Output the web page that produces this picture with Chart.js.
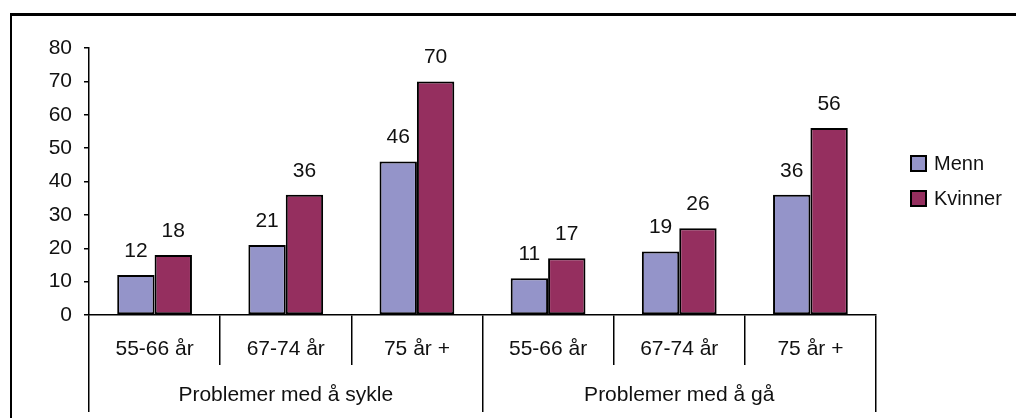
<!DOCTYPE html>
<html>
<head>
<meta charset="utf-8">
<script src="https://cdn.jsdelivr.net/npm/chart.js@4"></script>
<style>
  html, body { margin: 0; padding: 0; background: #fff; }
  #wrap { position: relative; width: 1016px; height: 418px; overflow: hidden; }
  #frame { position: absolute; left: 10px; top: 13px; width: 1100px; height: 500px;
           border-top: 3px solid #000; border-left: 2px solid #000; }
  #chart { position: absolute; left: 0; top: 0; }
  .legend { position: absolute; left: 910px; font: 20px "Liberation Sans", Arial, sans-serif; color: #111; }
  .legend div { position: relative; height: 24px; line-height: 24px; padding-left: 24px; }
  .legend span { position: absolute; left: 0; top: 4px; width: 13px; height: 13px; border: 2px solid #000; }
</style>
</head>
<body>
<div id="wrap">
  <div id="frame"></div>
  <canvas id="chart" width="1016" height="418"></canvas>
  <div class="legend" id="legend"></div>
</div>
<script>
document.addEventListener('DOMContentLoaded', function () {
    // Age groups (inner level) and activity (outer level)
    var ageLabels = ['55-66 år', '67-74 år', '75 år +', '55-66 år', '67-74 år', '75 år +'];
    var groupLabels = ['Problemer med å sykle', 'Problemer med å gå'];
    var menn = [12, 21, 46, 11, 19, 36];
    var kvinner = [18, 36, 70, 17, 26, 56];
    var yTicks = [0, 10, 20, 30, 40, 50, 60, 70, 80];

    var colors = { menn: '#9494c9', kvinner: '#952f5f' };
    var font = { family: '"Liberation Sans", Arial, sans-serif', size: 21 };

    // Draw the value above every bar
    var valueLabels = {
        id: 'valueLabels',
        afterDatasetsDraw: function (chart) {
            var ctx = chart.ctx;
            ctx.save();
            ctx.font = font.size + 'px ' + font.family;
            ctx.fillStyle = '#111';
            ctx.textAlign = 'center';
            ctx.textBaseline = 'middle';
            chart.data.datasets.forEach(function (ds, i) {
                chart.getDatasetMeta(i).data.forEach(function (bar, j) {
                    ctx.fillText(ds.data[j], bar.x, bar.y - 24);
                });
            });
            ctx.restore();
        }
    };

    var ctx = document.getElementById('chart').getContext('2d');
    var chart = new Chart(ctx, {
        type: 'bar',
        data: {
            labels: ageLabels,
            datasets: [
                { label: 'Menn', data: menn, backgroundColor: colors.menn, borderColor: '#000', borderWidth: 2, borderSkipped: false },
                { label: 'Kvinner', data: kvinner, backgroundColor: colors.kvinner, borderColor: '#000', borderWidth: 2, borderSkipped: false }
            ]
        },
        options: {
            responsive: false,
            animation: false,
            devicePixelRatio: 1,
            categoryPercentage: 0.57,
            barPercentage: 1,
            layout: { padding: { left: 0, top: 48, right: 140, bottom: 6 } },
            plugins: {
                legend: { display: false },
                tooltip: { enabled: false }
            },
            scales: {
                y: {
                    min: 0,
                    max: 80,
                    afterBuildTicks: function (scale) {
                        scale.ticks = yTicks.map(function (v) { return { value: v }; });
                    },
                    afterFit: function (scale) { scale.width = 89; },
                    border: { color: '#000', width: 1.5 },
                    grid: { drawOnChartArea: false, color: '#000', lineWidth: 1.5, tickLength: 5 },
                    ticks: { color: '#111', font: font, padding: 12 }
                },
                x: {
                    weight: 1,
                    afterFit: function (scale) { scale.height = 50; },
                    border: { color: '#000', width: 1.5 },
                    grid: { offset: true, drawOnChartArea: false, color: '#000', lineWidth: 1.5, tickLength: 50 },
                    ticks: { color: '#111', font: font, padding: -28, maxRotation: 0, autoSkip: false }
                },
                x2: {
                    type: 'category',
                    position: 'bottom',
                    weight: 2,
                    labels: groupLabels,
                    offset: true,
                    afterFit: function (scale) { scale.height = 47; },
                    border: { display: false },
                    grid: { offset: true, drawOnChartArea: false, color: '#000', lineWidth: 1.5, tickLength: 47 },
                    ticks: { color: '#111', font: font, padding: -29, maxRotation: 0, autoSkip: false }
                }
            }
        },
        plugins: [valueLabels]
    });

    // Legend on the right
    var legend = document.getElementById('legend');
    legend.style.top = (163 - 12) + 'px';
    legend.innerHTML = chart.data.datasets.map(function (ds, i) {
        return '<div style="margin-bottom:' + (i === 0 ? 11 : 0) + 'px"><span style="background:' +
            ds.backgroundColor + '"></span>' + ds.label + '</div>';
    }).join('');
});
</script>
</body>
</html>
